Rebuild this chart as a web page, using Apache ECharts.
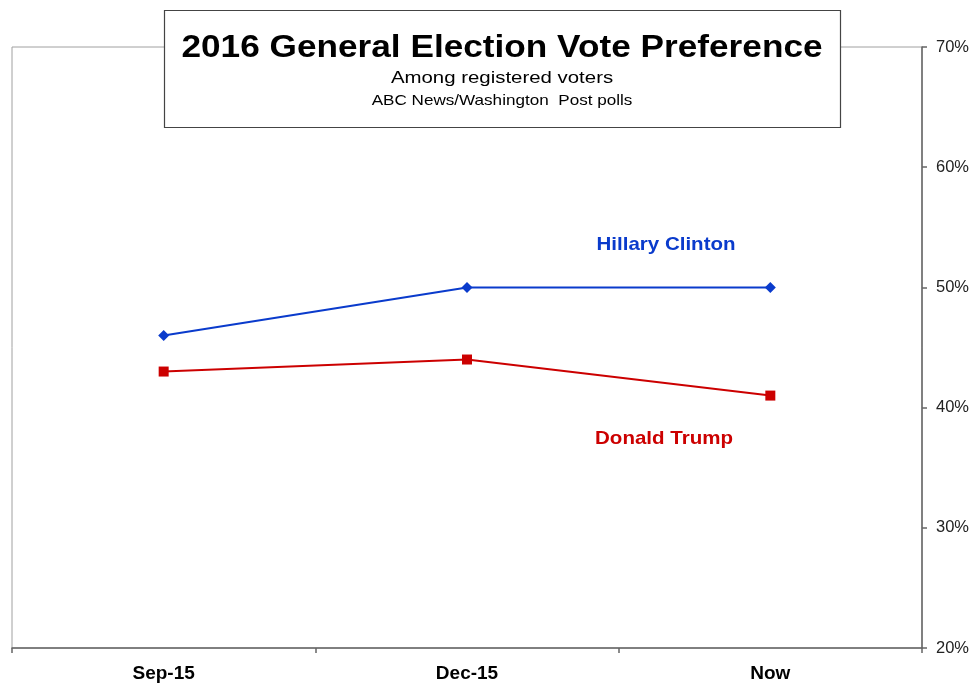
<!DOCTYPE html>
<html>
<head>
<meta charset="utf-8">
<script src="https://cdn.jsdelivr.net/npm/echarts@6/dist/echarts.min.js"></script>
<style>
html,body{margin:0;padding:0;background:#fff;}
#chart{width:975px;height:684px;}
</style>
</head>
<body>
<div id="chart"></div>
<script>
const categories = ['Sep-15', 'Dec-15', 'Now'];
const clinton = [46, 50, 50];
const trump = [43, 44, 41];
const yTicks = [20, 30, 40, 50, 60, 70];

const FONT = '"Liberation Sans", Arial, sans-serif';
const chart = echarts.init(document.getElementById('chart'));
chart.setOption({
  animation: false,
  backgroundColor: '#fff',
  grid: {left: 12, right: 53, top: 47, bottom: 36, show: true, borderColor: '#a0a0a0', borderWidth: 1, backgroundColor: 'transparent'},
  xAxis: {
    type: 'category',
    data: categories,
    boundaryGap: true,
    axisLine: {lineStyle: {color: '#666', width: 1.5}},
    axisTick: {show: true, interval: 0, length: 5, lineStyle: {color: '#666', width: 1.5}},
    axisLabel: {color: '#000', fontFamily: FONT, fontWeight: 'bold', fontSize: 19, margin: 16},
    splitLine: {show: false}
  },
  yAxis: {
    type: 'value',
    position: 'right',
    min: yTicks[0],
    max: yTicks[yTicks.length - 1],
    interval: 10,
    axisLine: {show: true, lineStyle: {color: '#666', width: 1.5}},
    axisTick: {show: true, length: 5, inside: false, lineStyle: {color: '#666', width: 1.5}},
    axisLabel: {color: '#222', fontFamily: FONT, fontSize: 16.5, margin: 14, formatter: '{value}%'},
    splitLine: {show: false}
  },
  series: [
    {
      name: 'Hillary Clinton',
      type: 'line',
      data: clinton,
      symbol: 'diamond',
      symbolSize: 11,
      lineStyle: {color: '#0A3BCC', width: 2},
      itemStyle: {color: '#0A3BCC'},
      z: 3
    },
    {
      name: 'Donald Trump',
      type: 'line',
      data: trump,
      symbol: 'rect',
      symbolSize: 10,
      lineStyle: {color: '#CC0000', width: 2},
      itemStyle: {color: '#CC0000'},
      z: 3
    }
  ],
  graphic: [
    {type: 'rect', shape: {x: 164.5, y: 10.5, width: 676, height: 117}, style: {fill: '#fff', stroke: '#444', lineWidth: 1.2}, z: 10},
    {type: 'text', x: 502, y: 48, scaleX: 1.1, style: {text: '2016 General Election Vote Preference', font: 'bold 32px ' + FONT, fill: '#000', textAlign: 'center', textVerticalAlign: 'middle'}, z: 11},
    {type: 'text', x: 502, y: 78, scaleX: 1.2, style: {text: 'Among registered voters', font: '17px ' + FONT, fill: '#000', textAlign: 'center', textVerticalAlign: 'middle'}, z: 11},
    {type: 'text', x: 502, y: 101, scaleX: 1.14, style: {text: 'ABC News/Washington  Post polls', font: '15px ' + FONT, fill: '#000', textAlign: 'center', textVerticalAlign: 'middle'}, z: 11},
    {type: 'text', x: 666, y: 245, scaleX: 1.08, style: {text: 'Hillary Clinton', font: 'bold 19px ' + FONT, fill: '#0A3BCC', textAlign: 'center', textVerticalAlign: 'middle'}, z: 11},
    {type: 'text', x: 664, y: 439, scaleX: 1.08, style: {text: 'Donald Trump', font: 'bold 19px ' + FONT, fill: '#CC0000', textAlign: 'center', textVerticalAlign: 'middle'}, z: 11}
  ]
});
</script>
</body>
</html>
